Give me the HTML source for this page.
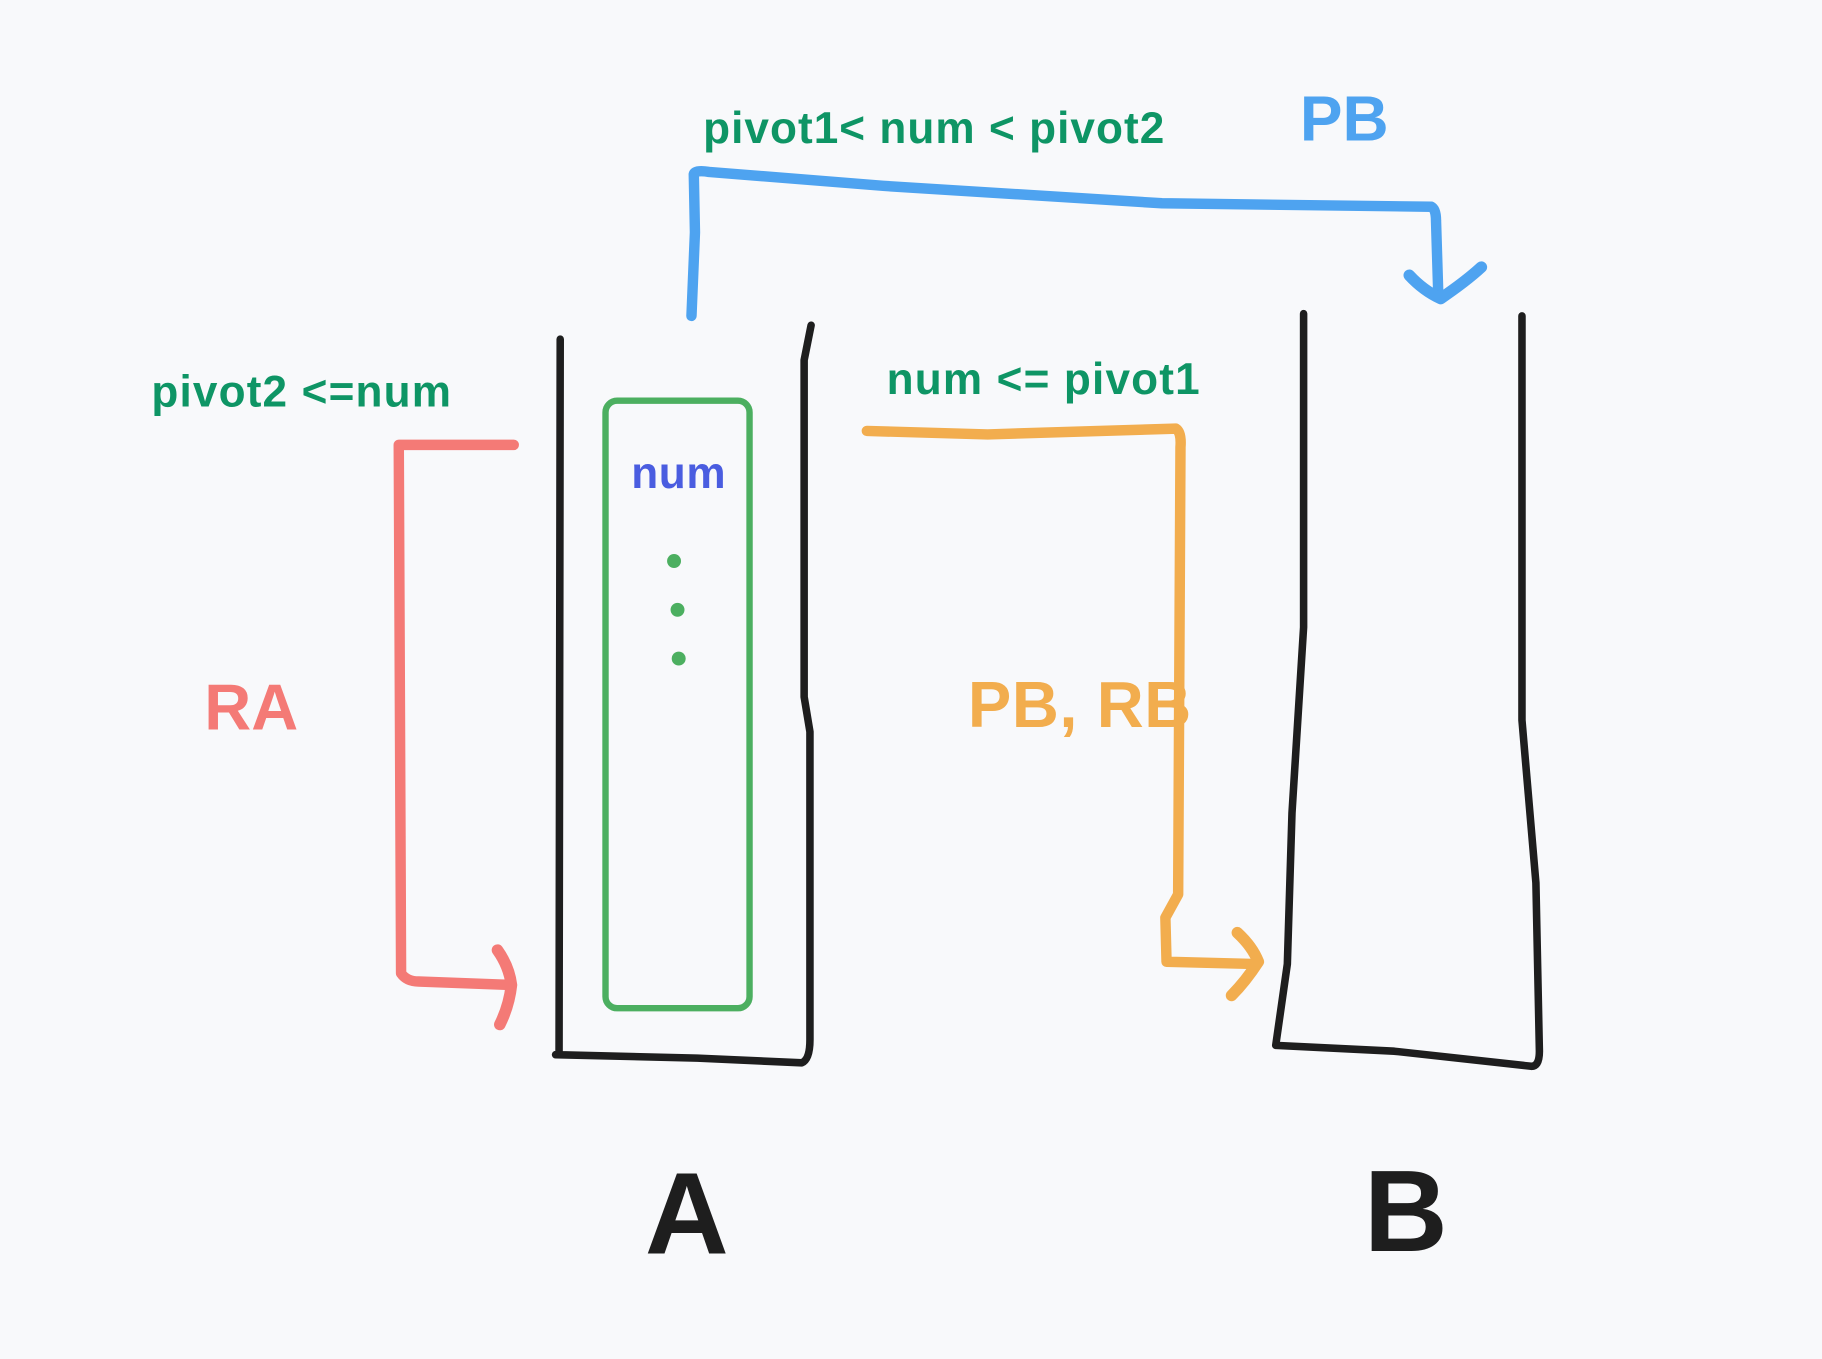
<!DOCTYPE html>
<html><head><meta charset="utf-8"><style>
html,body{margin:0;padding:0;background:#f8f9fb;}
svg{display:block;}
text{font-family:"Liberation Sans",sans-serif;font-weight:bold;}
</style></head><body>
<svg width="1822" height="1359" viewBox="0 0 1568 1170" xmlns="http://www.w3.org/2000/svg">
<rect width="1568" height="1170" fill="#f8f9fb"/>
<g fill="none" stroke-linecap="round" stroke-linejoin="round">
<path d="M482,292 L481,908 L478,908 L600,911 L690,915 Q697,912 697,895 L697,630 L692,600 L692,310 L698,280" stroke="#1e1e1e" stroke-width="6.5"/>
<rect x="521" y="345" width="124" height="523" rx="10" stroke="#4caf60" stroke-width="5.5"/>
<path d="M1122,270 L1122,540 L1112,700 L1108,830 L1098,900 L1200,905 L1318,918 Q1325,918 1325,905 L1322,760 L1310,620 L1310,272" stroke="#1e1e1e" stroke-width="6.5"/>
<path d="M595,272 L598,200 L597,150 Q598,146 610,148 L760,160 L1000,175 L1232,178 Q1236,180 1236,190 L1238,255" stroke="#4ea3f0" stroke-width="9"/>
<path d="M1213,237 Q1225,250 1240,257 Q1262,242 1275,230" stroke="#4ea3f0" stroke-width="10"/>
<path d="M442,383 L343,383 L345,838 Q350,845 360,845 L440,848" stroke="#f47a76" stroke-width="9"/>
<path d="M428,818 Q438,832 440,848 Q438,866 430,882" stroke="#f47a76" stroke-width="10"/>
<path d="M746,371 L850,374 L1012,369 Q1017,372 1016,385 L1014,770 L1003,790 L1004,828 L1082,830" stroke="#f2ad4e" stroke-width="9"/>
<path d="M1065,803 Q1078,815 1083,828 Q1072,845 1060,857" stroke="#f2ad4e" stroke-width="10"/>
</g>
<circle cx="580" cy="483" r="6" fill="#4caf60"/>
<circle cx="583" cy="525" r="6" fill="#4caf60"/>
<circle cx="584" cy="567" r="6" fill="#4caf60"/>
<text x="584" y="420" font-size="38" fill="#4a5de0" text-anchor="middle" letter-spacing="0.5">num</text>
<text x="605" y="123" font-size="38" fill="#0e9565" letter-spacing="0.9">pivot1&lt; num &lt; pivot2</text>
<text x="1157" y="121" font-size="55" fill="#4ea3f0" text-anchor="middle">PB</text>
<text x="130" y="350" font-size="38" fill="#0e9565" letter-spacing="1">pivot2 &lt;=num</text>
<text x="763" y="339" font-size="38" fill="#0e9565" letter-spacing="1">num &lt;= pivot1</text>
<text x="216" y="628" font-size="56" fill="#f47a76" text-anchor="middle">RA</text>
<text x="833" y="626" font-size="56" fill="#f2ad4e" letter-spacing="0.5">PB, RB</text>
<text x="591" y="1079" font-size="100" fill="#1e1e1e" text-anchor="middle">A</text>
<text x="1210" y="1077" font-size="100" fill="#1e1e1e" text-anchor="middle">B</text>
</svg>
</body></html>
